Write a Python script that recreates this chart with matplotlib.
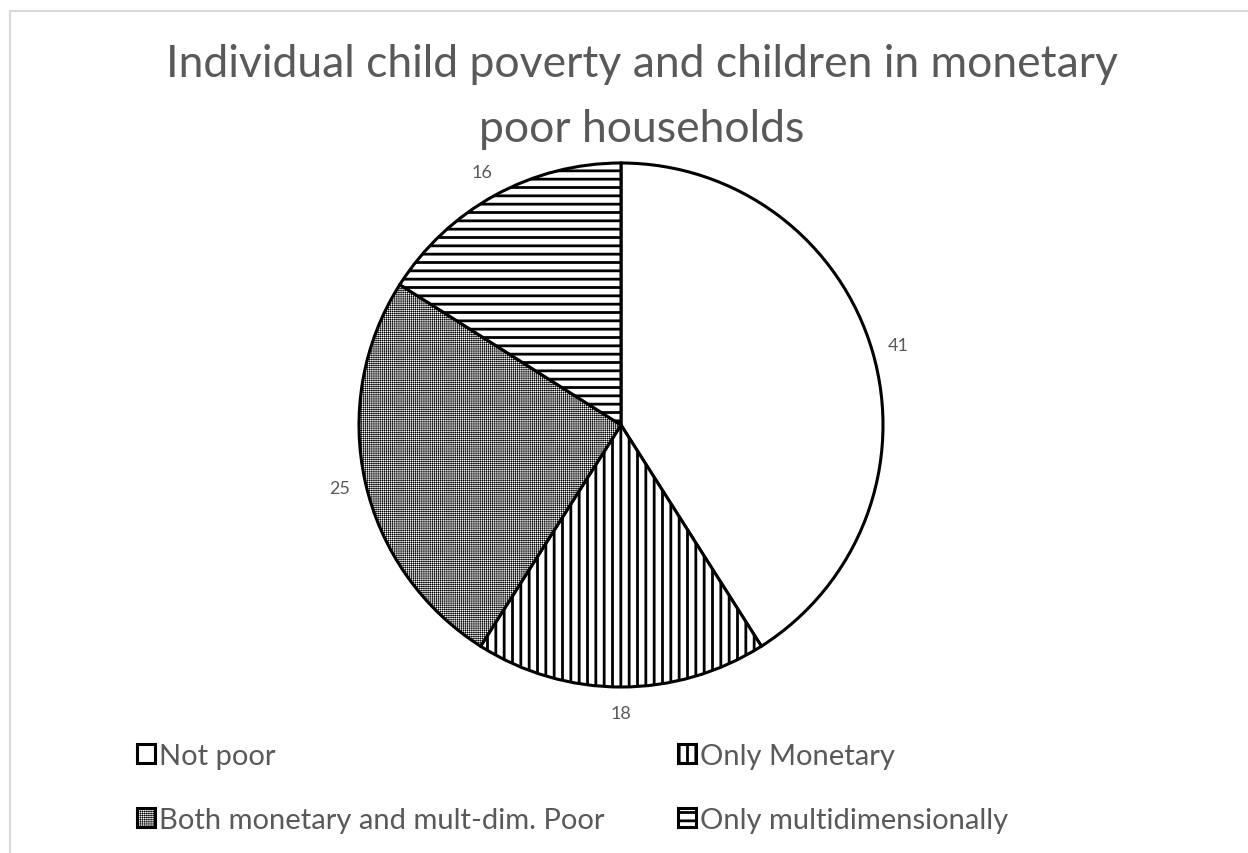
import numpy as np
import matplotlib.pyplot as plt
from matplotlib.lines import Line2D
from matplotlib.patches import Patch

plt.rcParams['font.family'] = ['Lato', 'DejaVu Sans']
plt.rcParams['hatch.linewidth'] = 2.0

# data
categories = ['Not poor', 'Only Monetary', 'Both monetary and mult-dim. Poor', 'Only multidimensionally']
values = [41, 18, 25, 16]
hatches = ['', '||', '++++++++', '--']
title = 'Individual child poverty and children in monetary\npoor households'

text_col = '#595959'

fig = plt.figure(figsize=(12.48, 8.54), dpi=100)

# chart area border (light gray, runs off the right/bottom)
fig.add_artist(Line2D([10/1248, 1.0], [1 - 12/854, 1 - 12/854], color='#d9d9d9', lw=1.5))
fig.add_artist(Line2D([10/1248, 10/1248], [0, 1 - 12/854], color='#d9d9d9', lw=1.5))

cx, cy, r = 621, 426, 262
ax = fig.add_axes([(cx - r)/1248, (854 - cy - r)/854, 2*r/1248, 2*r/854])

wedges, texts, autotexts = ax.pie(values, startangle=90, counterclock=False,
                                  colors=['white']*4,
                                  wedgeprops=dict(edgecolor='black', linewidth=2.2),
                                  autopct='%.0f', pctdistance=1.1,
                                  textprops=dict(color=text_col, fontsize=13))
for w, h in zip(wedges, hatches):
    w.set_hatch(h)
# fine checker pattern for the "both" slice
if hasattr(wedges[2], 'set_hatch_linewidth'):
    wedges[2].set_hatch_linewidth(0.4)
ax.set_xlim(-1, 1)
ax.set_ylim(-1, 1)

fig.text(642/1248, 1 - 97/854, title, ha='center', va='center', fontsize=32,
         color=text_col, linespacing=1.75)

# legend handles (rows: Not poor / Only Monetary, Both / Only multi)
handles = [Patch(facecolor='white', edgecolor='black', linewidth=2.2, hatch=h) for h in hatches]
order = [0, 2, 1, 3]
leg = fig.legend([handles[i] for i in order], [categories[i] for i in order],
                 ncol=2, loc='upper left', bbox_to_anchor=(137/1248, 1 - 744/854),
                 frameon=False, fontsize=21, handlelength=0.62, handleheight=0.62,
                 handletextpad=0.15, columnspacing=2.5, labelspacing=1.3, borderpad=0,
                 borderaxespad=0)
for t in leg.get_texts():
    t.set_color(text_col)
for hnd in leg.legend_handles:
    if hnd.get_hatch() == hatches[2] and hasattr(hnd, 'set_hatch_linewidth'):
        hnd.set_hatch_linewidth(0.4)

fig.savefig('out.png', dpi=100, facecolor='white')
